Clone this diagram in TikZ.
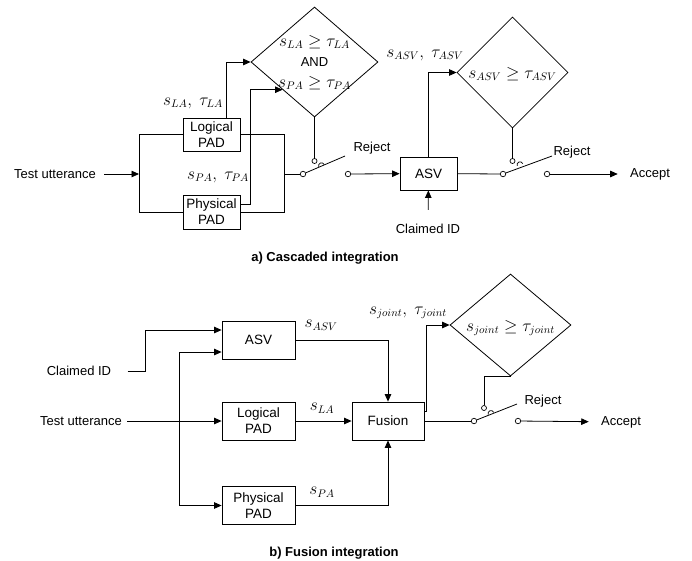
\documentclass[tikz,border=0pt]{standalone}
\usepackage{amsmath}
\usepackage{amssymb}
\usepackage{fontspec}
\setmainfont{Liberation Sans}
\usepackage{tikz}
\usetikzlibrary{arrows.meta,shapes.geometric,calc}

\begin{document}
\begin{tikzpicture}[x=1pt,y=-1pt,line width=0.8pt]
\tikzstyle{txt}=[inner sep=2pt,font=\fontsize{13}{15}\selectfont]
\tikzstyle{mth}=[inner sep=1pt,font=\fontsize{16}{19}\selectfont]
\tikzstyle{box}=[draw,align=center,inner sep=1pt,font=\fontsize{13.5}{16}\selectfont]
\tikzstyle{dia}=[draw,diamond,inner sep=0pt]
\tikzstyle{term}=[circle,draw,fill=white,inner sep=0pt,minimum size=5.5pt,line width=0.7pt]
\tikzstyle{arr}=[-{Triangle[length=7.5pt,width=6.5pt]}]
\useasboundingbox (0,0) rectangle (692,560);

% a) cascaded
\node[txt] (tu1) at (55,174) {Test utterance};
\coordinate (j1) at (139,174);
\coordinate (j2) at (284,174);
\node[box,minimum width=57pt,minimum height=33pt] (lpad1) at (211.5,134.5) {Logical\\PAD};
\node[box,minimum width=57pt,minimum height=34pt] (ppad1) at (211.5,212) {Physical\\PAD};
\node[dia,minimum width=127pt,minimum height=110pt] (d1) at (314.5,62) {};
\node[mth,align=center] (d1t) at (314.5,62.5) {$s_{LA}\geq\tau_{LA}$\\[1pt]{\fontsize{13}{15}\selectfont AND}\\[2pt]$s_{PA}\geq\tau_{PA}$};
\node[box,minimum width=57pt,minimum height=33pt] (asv1) at (428.5,173.5) {ASV};
\node[dia,minimum width=111pt,minimum height=111pt] (d2) at (512.5,72.5) {};
\node[mth] (d2t) at (512.5,74) {$s_{ASV}\geq\tau_{ASV}$};
\node[txt] (cid1) at (428,229) {Claimed ID};
\node[term] (sw1a) at (303,174) {};
\node[term] (sw1b) at (348,174) {};
\node[term,minimum size=5pt] (ctl1) at (314.5,161) {};
\coordinate (sw1e) at (345,156);
\node[term] (sw2a) at (503,174) {};
\node[term] (sw2b) at (547,174) {};
\node[term,minimum size=5pt] (ctl2) at (512.5,161) {};
\coordinate (sw2e) at (552,156);
\node[txt] (rej1) at (372,148) {Reject};
\node[txt] (rej2) at (572,152) {Reject};
\node[txt] (acc1) at (650,174) {Accept};
\node[mth] at (193,103) {$s_{LA},\ \tau_{LA}$};
\node[mth] at (218,177) {$s_{PA},\ \tau_{PA}$};
\node[mth] at (425,55) {$s_{ASV},\ \tau_{ASV}$};
\node[txt,font=\fontsize{13}{15}\selectfont\bfseries] (ta) at (325,258) {a) Cascaded integration};

\draw[arr,shorten <=6pt] (tu1) -- (j1);
\draw (j1) |- (lpad1.west);
\draw (j1) |- (ppad1.west);
\draw (lpad1.east) -| (j2);
\draw (ppad1.east) -| (j2);
\draw (j2) -- (sw1a);
\draw[arr] ([xshift=14.5pt]lpad1.north) |- (d1.west);
\draw[arr] ([yshift=8pt]ppad1.east) -- ++(10,0) |- ($(d1.west)!0.5!(d1.south)$);
\draw (d1.south) -- (ctl1);
\draw (sw1a) -- (sw1e);
\draw (321.5,165.8) ++(156.8:3) arc[start angle=156.8,end angle=336.8,radius=3];
\draw[arr] (sw1b) -- (asv1);
\draw[arr,shorten <=12pt] (cid1) -- (asv1);
\draw[arr] (asv1.north) |- (d2.west);
\draw (asv1) -- (sw2a);
\draw (d2.south) -- (ctl2);
\draw (sw2a) -- (sw2e);
\draw (520,164.8) ++(156.8:3) arc[start angle=156.8,end angle=336.8,radius=3];
\draw[arr,shorten >=10pt] (sw2b) -- (acc1);

% b) fusion
\node[txt] (cid2) at (79,371) {Claimed ID};
\node[txt] (tu2) at (81,421) {Test utterance};
\coordinate (j3) at (179,421);
\node[box,minimum width=73pt,minimum height=38pt] (asv2) at (258.5,340) {ASV};
\node[box,minimum width=73pt,minimum height=38pt] (lpad2) at (258.5,421) {Logical\\PAD};
\node[box,minimum width=73pt,minimum height=38pt] (ppad2) at (258.5,505.5) {Physical\\PAD};
\node[box,minimum width=72pt,minimum height=38pt] (fus) at (388,421) {Fusion};
\node[dia,minimum width=121pt,minimum height=102pt] (d3) at (510.5,325) {};
\node[mth] (d3t) at (510.5,328) {$s_{joint}\geq\tau_{joint}$};
\node[term] (sw3a) at (474,421) {};
\node[term] (sw3b) at (518,421) {};
\node[term,minimum size=5pt] (ctl3) at (484,408) {};
\coordinate (sw3e) at (517,404);
\node[txt] (rej3) at (543,401) {Reject};
\node[txt] (acc2) at (621,422) {Accept};
\node[mth] at (321,325) {$s_{ASV}$};
\node[mth] at (322,408) {$s_{LA}$};
\node[mth] at (322,492) {$s_{PA}$};
\node[mth] at (408,313) {$s_{joint},\ \tau_{joint}$};
\node[txt,font=\fontsize{13}{15}\selectfont\bfseries] (tb) at (334,553) {b) Fusion integration};

\draw[arr,shorten <=14pt] (cid2.east) -- ++(32,0) |- ([yshift=10pt]asv2.west);
\draw[shorten <=3pt] (tu2) -- (j3);
\draw[arr] (j3) -- (lpad2);
\draw[arr] (j3) |- ([yshift=-12pt]asv2.west);
\draw[arr] (j3) |- (ppad2);
\draw[arr] (asv2) -| (fus);
\draw[arr] (lpad2) -- (fus);
\draw[arr] (ppad2) -| (fus);
\draw[arr] ([yshift=10pt]fus.east) -- ++(2,0) |- (d3.west);
\draw (fus) -- (sw3a);
\draw (d3.south) -| (ctl3);
\draw (sw3a) -- (sw3e);
\draw (491,413.5) ++(156.8:3) arc[start angle=156.8,end angle=336.8,radius=3];
\draw[arr,shorten >=10pt] (sw3b) -- (acc2);
\end{tikzpicture}
\end{document}
